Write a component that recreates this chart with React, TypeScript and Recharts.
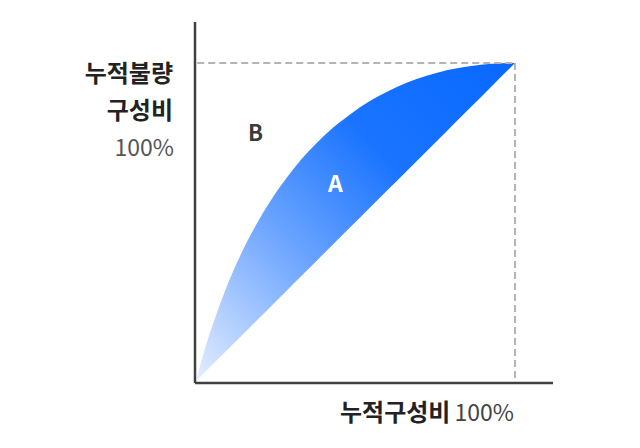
import React from "react";
import { ComposedChart, Area, XAxis, YAxis, ReferenceLine } from "recharts";

// Cumulative share of items (x, %) and cumulative share of defects (y, %)
const cumShareX = [0, 2.7, 5.7, 8.9, 12.3, 16, 19.9, 24.1, 28.5, 33.1, 38, 43.1, 48.5, 54.1, 59.9, 66, 72.3, 78.9, 85.7, 92.7, 100];
const cumDefectY = [0, 9.8, 19, 27.8, 36, 43.8, 51, 57.8, 64, 69.8, 75, 79.8, 84, 87.8, 91, 93.8, 96, 97.8, 99, 99.8, 100];

const yAxisTitle = ["누적불량", "구성비"];
const xAxisTitle = "누적구성비";
const fullLabel = "100%";
const areaLabelA = "A";
const areaLabelB = "B";

const data = cumShareX.map((x, i) => ({ x, band: [x, cumDefectY[i]] }));

const X_DOMAIN: [number, number] = [-0.3, 111.9];
const Y_DOMAIN: [number, number] = [-0.6, 112.9];

const FONT = "'Noto Sans CJK KR', 'Noto Sans', sans-serif";

export default function App() {
  return (
    <div style={{ position: "absolute", left: 0, top: 0, width: 640, height: 448, background: "#fff", fontFamily: FONT }}>
      <ComposedChart
        width={640}
        height={448}
        data={data}
        margin={{ top: 22, right: 87, bottom: 65, left: 195 }}
      >
        <defs>
          <linearGradient id="lorenzFill" x1="0" y1="1" x2="1" y2="0">
            <stop offset="0%" stopColor="#e4eeff" />
            <stop offset="35%" stopColor="#6fa6ff" />
            <stop offset="65%" stopColor="#1a74ff" />
            <stop offset="100%" stopColor="#0868ff" />
          </linearGradient>
        </defs>
        <XAxis type="number" dataKey="x" domain={X_DOMAIN} allowDataOverflow hide />
        <YAxis type="number" domain={Y_DOMAIN} allowDataOverflow hide />
        <ReferenceLine
          segment={[{ x: 0.4, y: 100 }, { x: 100, y: 100 }]}
          stroke="#b4b4b4"
          strokeWidth={2}
          strokeDasharray="7 4"
        />
        <ReferenceLine
          segment={[{ x: 100, y: 100 }, { x: 100, y: Y_DOMAIN[0] }]}
          stroke="#b4b4b4"
          strokeWidth={2}
          strokeDasharray="7 4"
        />
        <Area
          dataKey="band"
          type="monotone"
          stroke="none"
          fill="url(#lorenzFill)"
          fillOpacity={1}
          isAnimationActive={false}
          dot={false}
          activeDot={false}
        />
        <ReferenceLine
          segment={[{ x: X_DOMAIN[0], y: Y_DOMAIN[0] }, { x: X_DOMAIN[0], y: Y_DOMAIN[1] }]}
          stroke="#404040"
          strokeWidth={2.5}
          ifOverflow="visible"
        />
        <ReferenceLine
          segment={[{ x: X_DOMAIN[0], y: Y_DOMAIN[0] }, { x: X_DOMAIN[1], y: Y_DOMAIN[0] }]}
          stroke="#404040"
          strokeWidth={2.5}
          ifOverflow="visible"
        />
      </ComposedChart>

      <div style={{ position: "absolute", right: 640 - 173, top: 58, fontSize: 24, fontWeight: 700, color: "#222", lineHeight: "28px", textAlign: "right", whiteSpace: "nowrap" }}>
        {yAxisTitle[0]}
      </div>
      <div style={{ position: "absolute", right: 640 - 173, top: 95, fontSize: 24, fontWeight: 700, color: "#222", lineHeight: "28px", textAlign: "right", whiteSpace: "nowrap" }}>
        {yAxisTitle[1]}
      </div>
      <div style={{ position: "absolute", right: 640 - 174, top: 132, fontSize: 23, fontWeight: 400, color: "#555", lineHeight: "28px", textAlign: "right", whiteSpace: "nowrap" }}>
        {fullLabel}
      </div>

      <div style={{ position: "absolute", left: 340, top: 397, fontSize: 24, color: "#222", lineHeight: "28px", whiteSpace: "nowrap" }}>
        <span style={{ fontWeight: 700 }}>{xAxisTitle}</span>
        <span style={{ fontWeight: 400, color: "#444", marginLeft: 4, fontSize: 23 }}>{fullLabel}</span>
      </div>

      <div style={{ position: "absolute", left: 248, top: 117, fontSize: 22, fontWeight: 700, color: "#3a3a3a", lineHeight: "28px" }}>
        {areaLabelB}
      </div>
      <div style={{ position: "absolute", left: 328, top: 168, fontSize: 23, fontWeight: 700, color: "#fff", lineHeight: "28px" }}>
        {areaLabelA}
      </div>
    </div>
  );
}
